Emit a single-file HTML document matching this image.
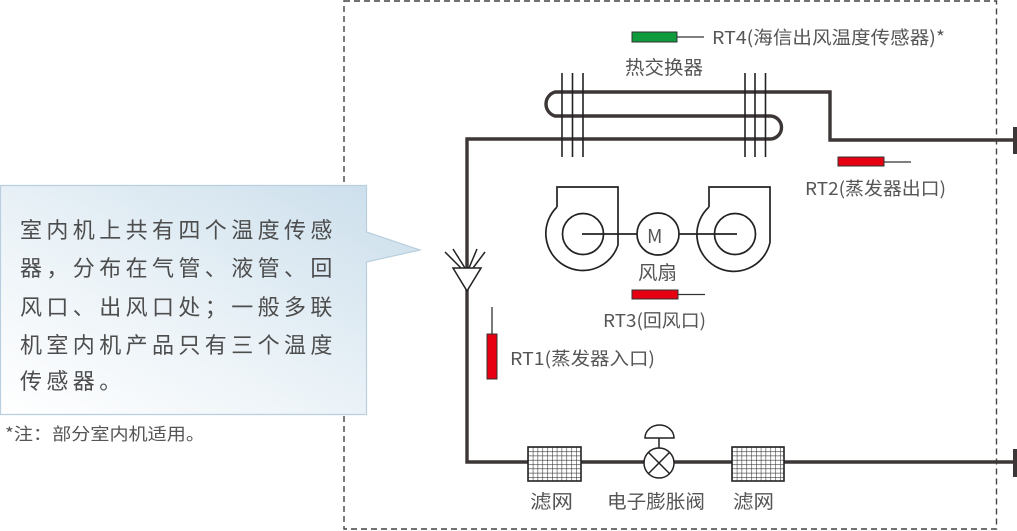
<!DOCTYPE html>
<html><head><meta charset="utf-8"><style>
html,body{margin:0;padding:0;background:#fff;}
svg{display:block;}
text{font-family:"Liberation Sans","Noto Sans CJK SC",sans-serif;fill:#555;}
.cjk{font-family:"Noto Sans CJK SC","Liberation Sans",sans-serif;}
</style></head><body>
<svg width="1017" height="531" viewBox="0 0 1017 531" xmlns="http://www.w3.org/2000/svg">
<defs>
<linearGradient id="cg" x1="1" y1="0" x2="0" y2="1">
<stop offset="0" stop-color="#c9ddeb"/>
<stop offset="0.55" stop-color="#eaf2f7"/>
<stop offset="1" stop-color="#ffffff"/>
</linearGradient>
<pattern id="grid" width="4.8" height="4.3" patternUnits="userSpaceOnUse" x="528" y="447">
<rect width="4.8" height="4.3" fill="#fff"/>
<path d="M0 0H4.8M0 0V4.3" stroke="#333" stroke-width="1.1" fill="none"/>
</pattern>
<pattern id="grid2" width="4.8" height="4.3" patternUnits="userSpaceOnUse" x="732" y="447">
<rect width="4.8" height="4.3" fill="#fff"/>
<path d="M0 0H4.8M0 0V4.3" stroke="#333" stroke-width="1.1" fill="none"/>
</pattern>
</defs>

<!-- dashed box -->
<rect x="344" y="1" width="652.5" height="528" fill="none" stroke="#444" stroke-width="1.4" stroke-dasharray="6,4"/>

<!-- main pipe loop -->
<g fill="none" stroke="#3d3636" stroke-width="3.4">
<path d="M1014 140 H830 V92 H555 A12.5 12.5 0 0 0 555 116 H770 A11.5 11.5 0 0 1 770 139 H467 V462 H1014"/>
</g>
<rect x="1013" y="127" width="4" height="27" fill="#3d3636"/>
<rect x="1013" y="449" width="4" height="28" fill="#3d3636"/>

<!-- fins -->
<g stroke="#222" stroke-width="1.6">
<line x1="562" y1="73" x2="562" y2="157"/>
<line x1="572.5" y1="73" x2="572.5" y2="157"/>
<line x1="583" y1="73" x2="583" y2="157"/>
<line x1="745" y1="73" x2="745" y2="157"/>
<line x1="755" y1="73" x2="755" y2="157"/>
<line x1="765.5" y1="73" x2="765.5" y2="157"/>
</g>

<!-- RT4 -->
<rect x="632" y="32" width="45" height="10" fill="#0f9a3c" stroke="#333" stroke-width="1"/>
<line x1="677" y1="37" x2="704" y2="37" stroke="#333" stroke-width="1.3"/>
<text class="cjk" x="712" y="44" font-size="18" textLength="233" lengthAdjust="spacingAndGlyphs">RT4(海信出风温度传感器)*</text>
<text class="cjk" x="625" y="74" font-size="19" textLength="78" lengthAdjust="spacingAndGlyphs">热交换器</text>

<!-- RT2 -->
<rect x="838" y="157" width="46" height="9" fill="#e60012" stroke="#333" stroke-width="1"/>
<line x1="884" y1="162" x2="911" y2="162" stroke="#333" stroke-width="1.3"/>
<text class="cjk" x="805" y="195" font-size="18" textLength="141" lengthAdjust="spacingAndGlyphs">RT2(蒸发器出口)</text>

<!-- fans -->
<g fill="none" stroke="#222" stroke-width="1.7">
<path d="M557 207 V187 H618 V245 A37 37 0 1 1 557 207"/>
<circle cx="583" cy="234" r="20.5"/>
<path d="M709 207 V187 H770 V242.5 A37 37 0 1 1 709 207"/>
<circle cx="735" cy="234" r="20.5"/>
<circle cx="658" cy="234" r="21"/>
<line x1="582" y1="234" x2="637" y2="234"/>
<line x1="679" y1="234" x2="737" y2="234"/>
</g>
<text class="cjk" x="647" y="243" font-size="19">M</text>
<text class="cjk" x="638" y="279" font-size="19" textLength="39" lengthAdjust="spacingAndGlyphs">风扇</text>

<!-- RT3 -->
<rect x="632" y="290" width="46" height="9" fill="#e60012" stroke="#333" stroke-width="1"/>
<line x1="678" y1="294.5" x2="705" y2="294.5" stroke="#333" stroke-width="1.3"/>
<text class="cjk" x="603" y="327" font-size="18" textLength="103" lengthAdjust="spacingAndGlyphs">RT3(回风口)</text>

<!-- distributor -->
<g fill="none" stroke="#222" stroke-width="1.5">
<path d="M453 268 H481 L467 291 Z" fill="#fff"/>
<line x1="445" y1="252" x2="461" y2="268"/>
<line x1="453" y1="249" x2="465" y2="268"/>
<line x1="477" y1="249" x2="469" y2="268"/>
<line x1="485" y1="252" x2="473" y2="268"/>
</g>

<!-- RT1 -->
<line x1="492" y1="307" x2="492" y2="334" stroke="#333" stroke-width="1.3"/>
<rect x="487" y="334" width="10" height="45" fill="#e60012" stroke="#333" stroke-width="1"/>
<text class="cjk" x="510" y="365" font-size="18" textLength="145" lengthAdjust="spacingAndGlyphs">RT1(蒸发器入口)</text>

<!-- filters -->
<rect x="528" y="447" width="53" height="34" fill="url(#grid)" stroke="#222" stroke-width="1.6"/>
<rect x="732" y="447" width="52" height="34" fill="url(#grid2)" stroke="#222" stroke-width="1.6"/>

<!-- valve -->
<g stroke="#222" stroke-width="1.5" fill="#fff">
<circle cx="659" cy="463" r="15"/>
<line x1="648.4" y1="452.4" x2="669.6" y2="473.6"/>
<line x1="669.6" y1="452.4" x2="648.4" y2="473.6"/>
<line x1="659" y1="448" x2="659" y2="438"/>
<path d="M645 438 A14.5 13 0 0 1 674 438 Z"/>
</g>

<text class="cjk" x="530" y="508" font-size="19" textLength="43" lengthAdjust="spacingAndGlyphs">滤网</text>
<text class="cjk" x="607" y="508" font-size="19" textLength="98" lengthAdjust="spacingAndGlyphs">电子膨胀阀</text>
<text class="cjk" x="733" y="508" font-size="19" textLength="41" lengthAdjust="spacingAndGlyphs">滤网</text>

<!-- callout -->
<path d="M0.5 185.5 H366.5 V232 L420 250 L366.5 262 V414.5 H0.5 Z" fill="url(#cg)" stroke="#b9cfdf" stroke-width="1.2"/>
<g font-size="22" style="letter-spacing:4.4px">
<text class="cjk" x="20" y="238" fill="#4d4d4d" style="fill:#4d4d4d">室内机上共有四个温度传感</text>
<text class="cjk" x="20" y="276" style="fill:#4d4d4d">器，分布在气管、液管、回</text>
<text class="cjk" x="20" y="315" style="fill:#4d4d4d">风口、出风口处；一般多联</text>
<text class="cjk" x="20" y="353" style="fill:#4d4d4d">机室内机产品只有三个温度</text>
<text class="cjk" x="20" y="389" style="fill:#4d4d4d">传感器。</text>
</g>
<text class="cjk" x="5" y="440" font-size="17" textLength="200" lengthAdjust="spacingAndGlyphs">*注：部分室内机适用。</text>
</svg>
</body></html>
